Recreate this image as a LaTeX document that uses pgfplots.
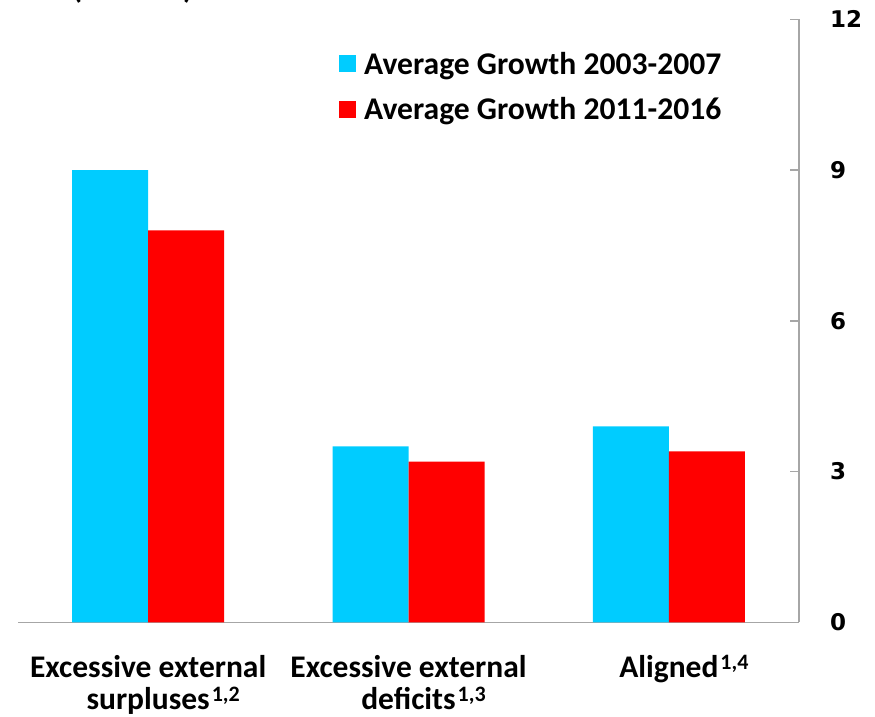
\documentclass[border=0pt]{standalone}
\usepackage{fontspec}
\setmainfont{Carlito}
\newfontfamily\tickfont{DejaVu Sans}
\usepackage{pgfplots}
\pgfplotsset{compat=1.18}

\definecolor{cyanbar}{HTML}{00CCFF}
\definecolor{redbar}{HTML}{FF0000}
\definecolor{axisgray}{HTML}{A6A6A6}

% footnote markers hanging to the right of a category name
\newcommand\sups[1]{\rlap{\smash{\kern2pt\raisebox{0.27em}{\fontsize{22}{22}\selectfont #1}}}}

\begin{document}
\begin{tikzpicture}[x=1pt,y=1pt]
\useasboundingbox (0,0) rectangle (875,716);
% unit line above the plot, mostly outside the page
\node[anchor=base west, inner sep=0pt, font=\bfseries\fontsize{32}{32}\selectfont] at (72,717) {(Percent)};
\begin{axis}[
  at={(18pt,93.7pt)}, anchor=south west,
  width=781pt, height=603pt, scale only axis,
  xmin=-0.5, xmax=2.5, ymin=0, ymax=12,
  axis x line*=bottom, axis y line*=right,
  axis line style={axisgray, line width=1.5pt},
  ytick={0,3,6,9,12},
  tick align=inside,
  major tick length=9pt,
  ytick style={axisgray, line width=1.5pt},
  xtick={0,1,2},
  xtick style={draw=none},
  xticklabels={
    {Excessive external\\surpluses\sups{1,2}},
    {Excessive external\\deficits\sups{1,3}},
    {Aligned\sups{1,4}}},
  xticklabel style={font=\bfseries\fontsize{31.5}{32}\selectfont, align=center,
    anchor=north, inner sep=0pt, yshift=-24pt},
  /pgf/number format/assume math mode=true,
  yticklabel style={font=\tickfont\bfseries\fontsize{23}{23}\selectfont,
    anchor=west, inner sep=0pt, xshift=31pt},
  ybar=0pt, bar width=76pt,
  legend style={at={(axis description cs:0.411,0.946)}, anchor=north west,
    draw=none, fill=none, inner sep=0pt, row sep=22pt, column sep=8pt,
    font=\bfseries\fontsize{31.6}{32}\selectfont,
    nodes={inner sep=0pt}},
  legend cell align=left,
  legend image code/.code={\fill[#1] (0pt,-8.5pt) rectangle (17pt,8.5pt);},
]
\addplot[fill=cyanbar, draw=none] coordinates {(0,9.0) (1,3.5) (2,3.9)};
\addplot[fill=redbar, draw=none] coordinates {(0,7.8) (1,3.2) (2,3.4)};
\legend{Average Growth 2003-2007, Average Growth 2011-2016}
\end{axis}
\end{tikzpicture}
\end{document}
